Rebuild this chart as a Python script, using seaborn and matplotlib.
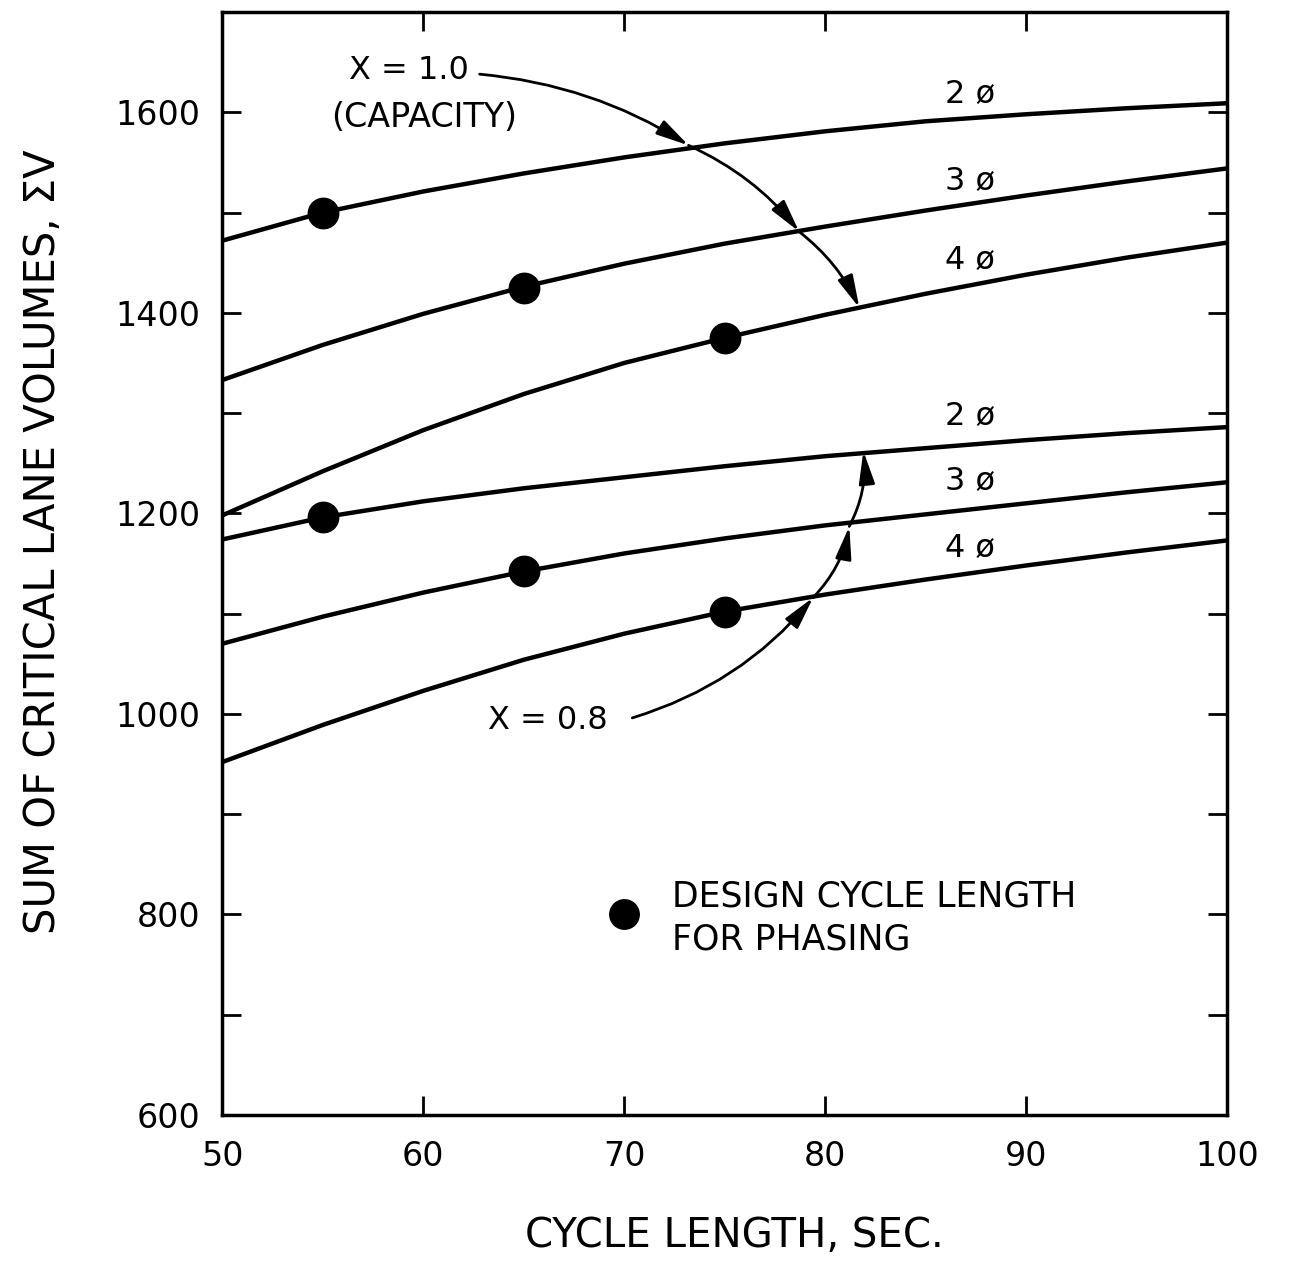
import matplotlib
matplotlib.use('Agg')
import pandas as pd
import matplotlib.pyplot as plt
import seaborn as sns

# cycle lengths (sec) where the curves were read
cycle = [50, 55, 60, 65, 70, 75, 80, 85, 90, 95, 100]

# X = 1.0 (capacity) curves
cap_2ph = [1472, 1500, 1521, 1539, 1555, 1569, 1581, 1591, 1598, 1604, 1609]
cap_3ph = [1333, 1368, 1399, 1426, 1449, 1469, 1486, 1502, 1517, 1531, 1544]
cap_4ph = [1198, 1242, 1283, 1319, 1350, 1375, 1398, 1419, 1438, 1455, 1470]

# X = 0.8 curves
low_2ph = [1174, 1196, 1212, 1225, 1236, 1247, 1257, 1265, 1273, 1280, 1286]
low_3ph = [1070, 1097, 1121, 1142, 1160, 1175, 1188, 1199, 1210, 1221, 1231]
low_4ph = [952, 989, 1023, 1054, 1080, 1102, 1119, 1134, 1148, 1161, 1173]

# design cycle length points
design_cycle = [55, 65, 75, 55, 65, 75]
design_volume = [1500, 1425, 1375, 1196, 1143, 1102]

curve_ids = ['cap2', 'cap3', 'cap4', 'low2', 'low3', 'low4']
curve_vals = [cap_2ph, cap_3ph, cap_4ph, low_2ph, low_3ph, low_4ph]
phase_labels = ['2 ø', '3 ø', '4 ø', '2 ø', '3 ø', '4 ø']
label_y = [1618, 1531, 1452, 1297, 1232, 1165]

# arrow waypoints (where the arrows hit the curves)
arrow_cap = [(62.8, 1638), (73.2, 1567), (78.7, 1481), (81.7, 1405)]
arrow_low = [(70.4, 996), (79.4, 1116), (81.2, 1187), (81.9, 1262)]

df = pd.DataFrame({
    'cycle': cycle * len(curve_ids),
    'volume': sum(curve_vals, []),
    'curve': [c for c in curve_ids for _ in cycle],
})
dots = pd.DataFrame({'cycle': design_cycle, 'volume': design_volume})

sns.set_style('white')
plt.rcParams['font.family'] = ['DejaVu Sans']
plt.rcParams['text.color'] = 'black'
plt.rcParams['axes.labelcolor'] = 'black'
plt.rcParams['xtick.color'] = 'black'
plt.rcParams['ytick.color'] = 'black'

fig = plt.figure(figsize=(12.93, 12.62), dpi=100)
ax = fig.add_axes([0.172, 0.1165, 0.777, 0.874])

sns.lineplot(data=df, x='cycle', y='volume', units='curve', estimator=None,
             color='black', linewidth=3.2, ax=ax)
sns.scatterplot(data=dots, x='cycle', y='volume', color='black', s=450,
                edgecolor='black', zorder=5, ax=ax)

for lab, yy in zip(phase_labels, label_y):
    ax.text(87.2, yy, lab, fontsize=23, ha='center', va='center')

# arrows X = 1.0
for a, b in zip(arrow_cap[:-1], arrow_cap[1:]):
    ax.annotate('', xy=b, xytext=a,
                arrowprops=dict(arrowstyle='-|>,head_length=0.9,head_width=0.22',
                                color='black', lw=2, mutation_scale=22,
                                shrinkA=0, shrinkB=0,
                                connectionstyle='arc3,rad=-0.12'))
# arrows X = 0.8
for a, b in zip(arrow_low[:-1], arrow_low[1:]):
    ax.annotate('', xy=b, xytext=a,
                arrowprops=dict(arrowstyle='-|>,head_length=0.9,head_width=0.22',
                                color='black', lw=2, mutation_scale=22,
                                shrinkA=0, shrinkB=0,
                                connectionstyle='arc3,rad=0.15'))

ax.text(56.3, 1642, 'X = 1.0', fontsize=23, ha='left', va='center')
ax.text(55.4, 1595, '(CAPACITY)', fontsize=24, ha='left', va='center')
ax.text(63.2, 993, 'X = 0.8', fontsize=23, ha='left', va='center')

# legend
ax.scatter([70], [800], s=450, color='black', zorder=5)
ax.text(72.4, 818, 'DESIGN CYCLE LENGTH', fontsize=25, ha='left', va='center')
ax.text(72.4, 775, 'FOR PHASING', fontsize=25, ha='left', va='center')

ax.set_xlim(50, 100)
ax.set_ylim(600, 1700)
ax.set_xticks([50, 60, 70, 80, 90, 100])
ax.set_yticks(range(600, 1700, 100))
ax.set_yticklabels([str(v) if v % 200 == 0 else '' for v in range(600, 1700, 100)])
ax.tick_params(direction='in', top=True, right=True, left=True, bottom=True,
               length=14, width=2, labelsize=24, color='black')
ax.tick_params(axis='x', pad=18)
ax.tick_params(axis='y', pad=16)
for s in ax.spines.values():
    s.set_linewidth(2.5)
    s.set_color('black')

ax.set_xlabel('CYCLE LENGTH, SEC.', fontsize=29)
ax.set_ylabel('SUM OF CRITICAL LANE VOLUMES, ΣV', fontsize=30)
ax.xaxis.set_label_coords(0.51, -0.092)
ax.yaxis.set_label_coords(-0.158, 0.52)

fig.savefig('out.png', dpi=100)
